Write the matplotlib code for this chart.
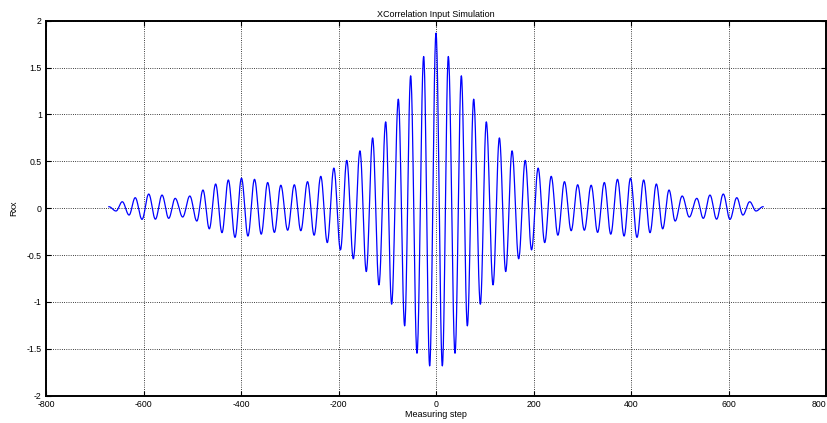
import numpy as np
import matplotlib
matplotlib.use("Agg")
import matplotlib.pyplot as plt
from matplotlib.ticker import FormatStrFormatter

# ---- data: local extrema of Rxx (lag >= 0; Rxx is symmetric) ----
lag_pos = [0, 13, 25.3, 39, 52, 64.3, 77.3, 91, 103.2, 117, 130, 143, 156, 169.6,
           183, 196, 209.5, 223, 236.3, 250, 263.5, 277.3, 290.6, 304.3, 318.3,
           331.5, 345.3, 358.5, 372.3, 385.8, 399, 412.3, 426, 439, 452, 465,
           478, 490.6, 505, 519.6, 535, 548.3, 562, 575.6, 589.3, 603, 617,
           629.6, 643.5, 656.4, 671]
rxx_pos = [1.867, -1.682, 1.618, -1.547, 1.412, -1.255, 1.163, -1.024, 0.921,
           -0.818, 0.750, -0.676, 0.612, -0.540, 0.510, -0.445, 0.428, -0.367,
           0.340, -0.288, 0.283, -0.240, 0.250, -0.235, 0.245, -0.258, 0.274,
           -0.277, 0.308, -0.297, 0.320, -0.311, 0.301, -0.261, 0.258, -0.220,
           0.194, -0.137, 0.130, -0.094, 0.105, -0.108, 0.140, -0.117, 0.151,
           -0.119, 0.112, -0.073, 0.069, -0.030, 0.016]

x_ticks = [-800, -600, -400, -200, 0, 200, 400, 600, 800]
y_ticks = [-2, -1.5, -1, -0.5, 0, 0.5, 1, 1.5, 2]

title = "XCorrelation Input Simulation"
xlabel = "Measuring step"
ylabel = "Rxx"

# full symmetric set of extrema
lags = [-v for v in lag_pos[::-1]] + lag_pos[1:]
vals = rxx_pos[::-1] + rxx_pos[1:]


def smooth_through(xs, ys, n=24):
    """Draw half-cosine segments between successive extrema."""
    X, Y = [], []
    for i in range(len(xs) - 1):
        t = np.linspace(0, 1, n, endpoint=False)
        X.append(xs[i] + t * (xs[i + 1] - xs[i]))
        Y.append(ys[i] + (ys[i + 1] - ys[i]) * (1 - np.cos(np.pi * t)) / 2)
    X.append([xs[-1]])
    Y.append([ys[-1]])
    return np.concatenate(X), np.concatenate(Y)


plt.rcParams['font.family'] = ['Liberation Sans', 'DejaVu Sans']
plt.rcParams['axes.unicode_minus'] = False

W, H = 827, 423
fig = plt.figure(figsize=(W / 100, H / 100), dpi=100)
ax = fig.add_axes([46 / W, 1 - 395.7 / H, (826 - 46) / W, (395.7 - 20.7) / H])

cx, cy = smooth_through(lags, vals)
ax.plot(cx, cy, color=(0, 0, 1), linewidth=0.9, zorder=3)

ax.set_xlim(-800, 800)
ax.set_ylim(-2, 2)
ax.set_xticks(x_ticks)
ax.set_yticks(y_ticks)
ax.yaxis.set_major_formatter(FormatStrFormatter('%g'))
ax.xaxis.set_major_formatter(FormatStrFormatter('%g'))

ax.grid(True, linestyle=':', color='black', linewidth=0.6)
ax.set_axisbelow(True)
ax.tick_params(direction='in', length=3.5, width=0.8, labelsize=6.3, pad=3,
               top=True, right=True, colors='black')
for s in ax.spines.values():
    s.set_linewidth(1.4)
    s.set_color('black')

ax.set_title(title, fontsize=6.5, pad=3)
ax.set_xlabel(xlabel, fontsize=6.5, labelpad=1)
ax.set_ylabel(ylabel, fontsize=6.5, labelpad=6)

fig.canvas.draw()
last = ax.get_xticklabels()[-1]
last.set_horizontalalignment('right')

fig.savefig("out.png", dpi=100)
